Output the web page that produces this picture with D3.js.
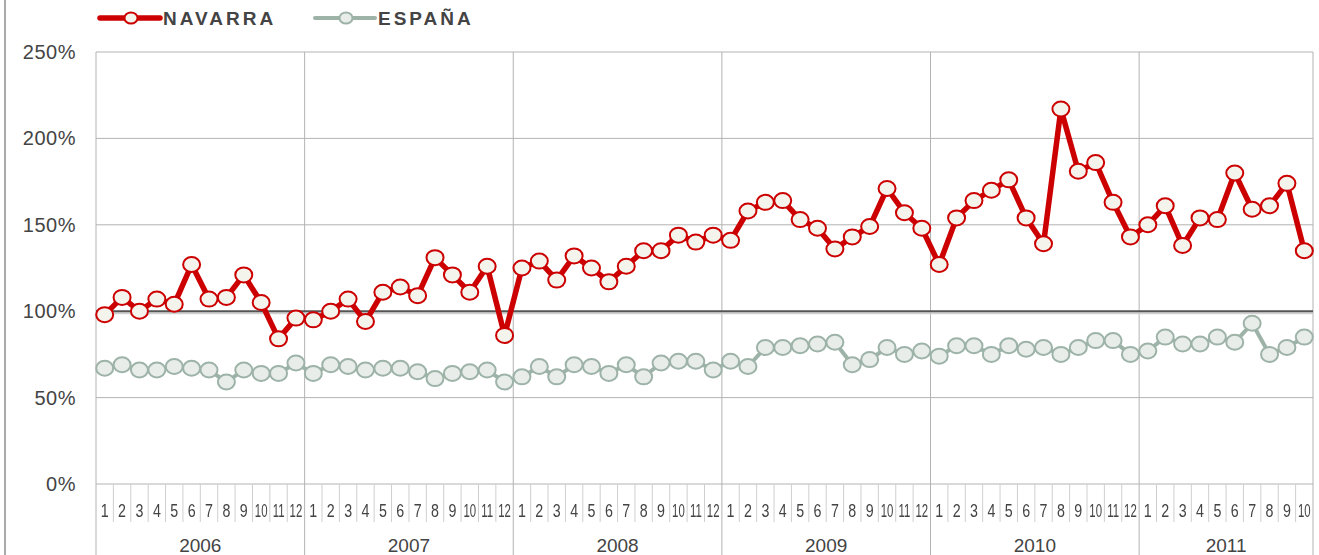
<!DOCTYPE html>
<html>
<head>
<meta charset="utf-8">
<script src="https://cdn.jsdelivr.net/npm/d3@7"></script>
<style>
  body { margin: 0; background: #fff; }
  text { font-family: "Liberation Sans", Arial, sans-serif; fill: #444; }
</style>
</head>
<body>
<div class="chart"></div>
<script>
var svgWidth = 1319;
var svgHeight = 555;
var margin = { top: 52, right: 6, bottom: 71, left: 96 };
var width = svgWidth - margin.left - margin.right;
var height = svgHeight - margin.top - margin.bottom;

// data
var years = ["2006", "2007", "2008", "2009", "2010", "2011"];
var monthsPerYear = [12, 12, 12, 12, 12, 10];
var yTicks = [0, 50, 100, 150, 200, 250];

var navarra = [
  98, 108, 100, 107, 104, 127, 107, 108, 121, 105, 84, 96,
  95, 100, 107, 94, 111, 114, 109, 131, 121, 111, 126, 86,
  125, 129, 118, 132, 125, 117, 126, 135, 135, 144, 140, 144,
  141, 158, 163, 164, 153, 148, 136, 143, 149, 171, 157, 148,
  127, 154, 164, 170, 176, 154, 139, 217, 181, 186, 163, 143,
  150, 161, 138, 154, 153, 180, 159, 161, 174, 135
];
var espana = [
  67, 69, 66, 66, 68, 67, 66, 59, 66, 64, 64, 70,
  64, 69, 68, 66, 67, 67, 65, 61, 64, 65, 66, 59,
  62, 68, 62, 69, 68, 64, 69, 62, 70, 71, 71, 66,
  71, 68, 79, 79, 80, 81, 82, 69, 72, 79, 75, 77,
  74, 80, 80, 75, 80, 78, 79, 75, 79, 83, 83, 75,
  77, 85, 81, 81, 85, 82, 93, 75, 79, 85
];

// month keys
var months = [];
years.forEach(function(y, i) {
  for (var m = 1; m <= monthsPerYear[i]; m++) months.push({ year: y, month: m, key: y + "-" + m });
});

var svg = d3.select(".chart")
  .append("svg")
  .attr("width", svgWidth)
  .attr("height", svgHeight);

// outer left frame
svg.append("line")
  .attr("x1", 5).attr("x2", 5).attr("y1", 0).attr("y2", svgHeight)
  .attr("stroke", "#aaa").attr("stroke-width", 2);

var chart = svg.append("g")
  .attr("transform", `translate(${margin.left}, ${margin.top})`);

var xScale = d3.scaleBand()
  .domain(months.map(function(d) { return d.key; }))
  .range([0, width]);
var yScale = d3.scaleLinear().domain([0, 250]).range([height, 0]);
var bw = xScale.bandwidth();

// horizontal grid
chart.selectAll(".hgrid")
  .data(yTicks.filter(function(t) { return t !== 100; }))
  .enter().append("line")
  .attr("x1", 0).attr("x2", width)
  .attr("y1", function(d) { return yScale(d); })
  .attr("y2", function(d) { return yScale(d); })
  .attr("stroke", "#b3b3b3").attr("stroke-width", 1);

// year separators
var yearStarts = [];
var acc = 0;
monthsPerYear.forEach(function(n, i) { yearStarts.push({ year: years[i], start: acc, n: n }); acc += n; });

chart.selectAll(".ysep")
  .data(yearStarts.concat([{ start: acc }]))
  .enter().append("line")
  .attr("x1", function(d) { return d.start * bw; })
  .attr("x2", function(d) { return d.start * bw; })
  .attr("y1", 0).attr("y2", svgHeight - margin.top)
  .attr("stroke", "#b3b3b3").attr("stroke-width", 1);

// month separators
chart.selectAll(".msep")
  .data(months.filter(function(d) { return d.month !== 1; }))
  .enter().append("line")
  .attr("x1", function(d) { return xScale(d.key); })
  .attr("x2", function(d) { return xScale(d.key); })
  .attr("y1", height).attr("y2", height + 38)
  .attr("stroke", "#cfcfcf").attr("stroke-width", 1);

// 100% reference line
chart.append("line")
  .attr("x1", 0).attr("x2", width)
  .attr("y1", yScale(100) + 2).attr("y2", yScale(100) + 2)
  .attr("stroke", "#d0d0d0").attr("stroke-width", 2);
chart.append("line")
  .attr("x1", 0).attr("x2", width)
  .attr("y1", yScale(100)).attr("y2", yScale(100))
  .attr("stroke", "#555").attr("stroke-width", 2);

// y labels
chart.selectAll(".ylab")
  .data(yTicks)
  .enter().append("text")
  .attr("x", -20)
  .attr("y", function(d) { return yScale(d) + 7; })
  .attr("text-anchor", "end")
  .style("font-size", "20px")
  .style("letter-spacing", "0.5px")
  .text(function(d) { return d + "%"; });

// month labels, squeezed horizontally to fit the cells
// (grayscale filter removes colour fringes on the scaled glyphs)
var monthGroup = chart.append("g").style("filter", "grayscale(1)");
monthGroup.selectAll(".mlab")
  .data(months)
  .enter().append("text")
  .attr("transform", function(d) {
    var sx = d.month >= 10 ? 0.6 : 0.75;
    return `translate(${xScale(d.key) + bw / 2}, ${height + 33}) scale(${sx}, 1)`;
  })
  .attr("text-anchor", "middle")
  .style("font-size", "19px")
  .text(function(d) { return d.month; });

// year labels
chart.selectAll(".yrlab")
  .data(yearStarts)
  .enter().append("text")
  .attr("x", function(d) { return (d.start + d.n / 2) * bw; })
  .attr("y", height + 68)
  .attr("text-anchor", "middle")
  .style("font-size", "19px")
  .text(function(d) { return d.year; });

// series
var series = [
  { name: "NAVARRA", values: navarra, color: "#cc0000", fill: "#f4f4ec", lw: 5.5 },
  { name: "ESPAÑA", values: espana, color: "#9db3a8", fill: "#e9edea", lw: 4 }
];

var line = d3.line()
  .x(function(d, i) { return xScale(months[i].key) + bw / 2; })
  .y(function(d) { return yScale(d); });

series.slice().reverse().forEach(function(s) {
  var g = chart.append("g");
  g.append("path")
    .datum(s.values)
    .attr("d", line)
    .attr("fill", "none")
    .attr("stroke", s.color)
    .attr("stroke-width", s.lw)
    .attr("stroke-linejoin", "round");
  g.selectAll("ellipse")
    .data(s.values)
    .enter().append("ellipse")
    .attr("cx", function(d, i) { return xScale(months[i].key) + bw / 2; })
    .attr("cy", function(d) { return yScale(d); })
    .attr("rx", 8.5).attr("ry", 7.5)
    .attr("fill", s.fill)
    .attr("stroke", s.color)
    .attr("stroke-width", 2);
});

// legend
var legend = svg.append("g").attr("transform", "translate(100, 18)");
var legX = [0, 215];
series.forEach(function(s, i) {
  var lg = legend.append("g").attr("transform", `translate(${legX[i]}, 0)`);
  lg.append("line")
    .attr("x1", 0).attr("x2", 60).attr("y1", 0).attr("y2", 0)
    .attr("stroke", s.color).attr("stroke-width", s.lw)
    .attr("stroke-linecap", "round");
  lg.append("ellipse")
    .attr("cx", 31).attr("cy", 0).attr("rx", 6.5).attr("ry", 5.5)
    .attr("fill", s.fill).attr("stroke", s.color).attr("stroke-width", 2);
  lg.append("text")
    .attr("x", 63).attr("y", 7)
    .style("font-size", "19px")
    .style("font-weight", "bold")
    .style("letter-spacing", "3px")
    .text(s.name);
});
</script>
</body>
</html>
